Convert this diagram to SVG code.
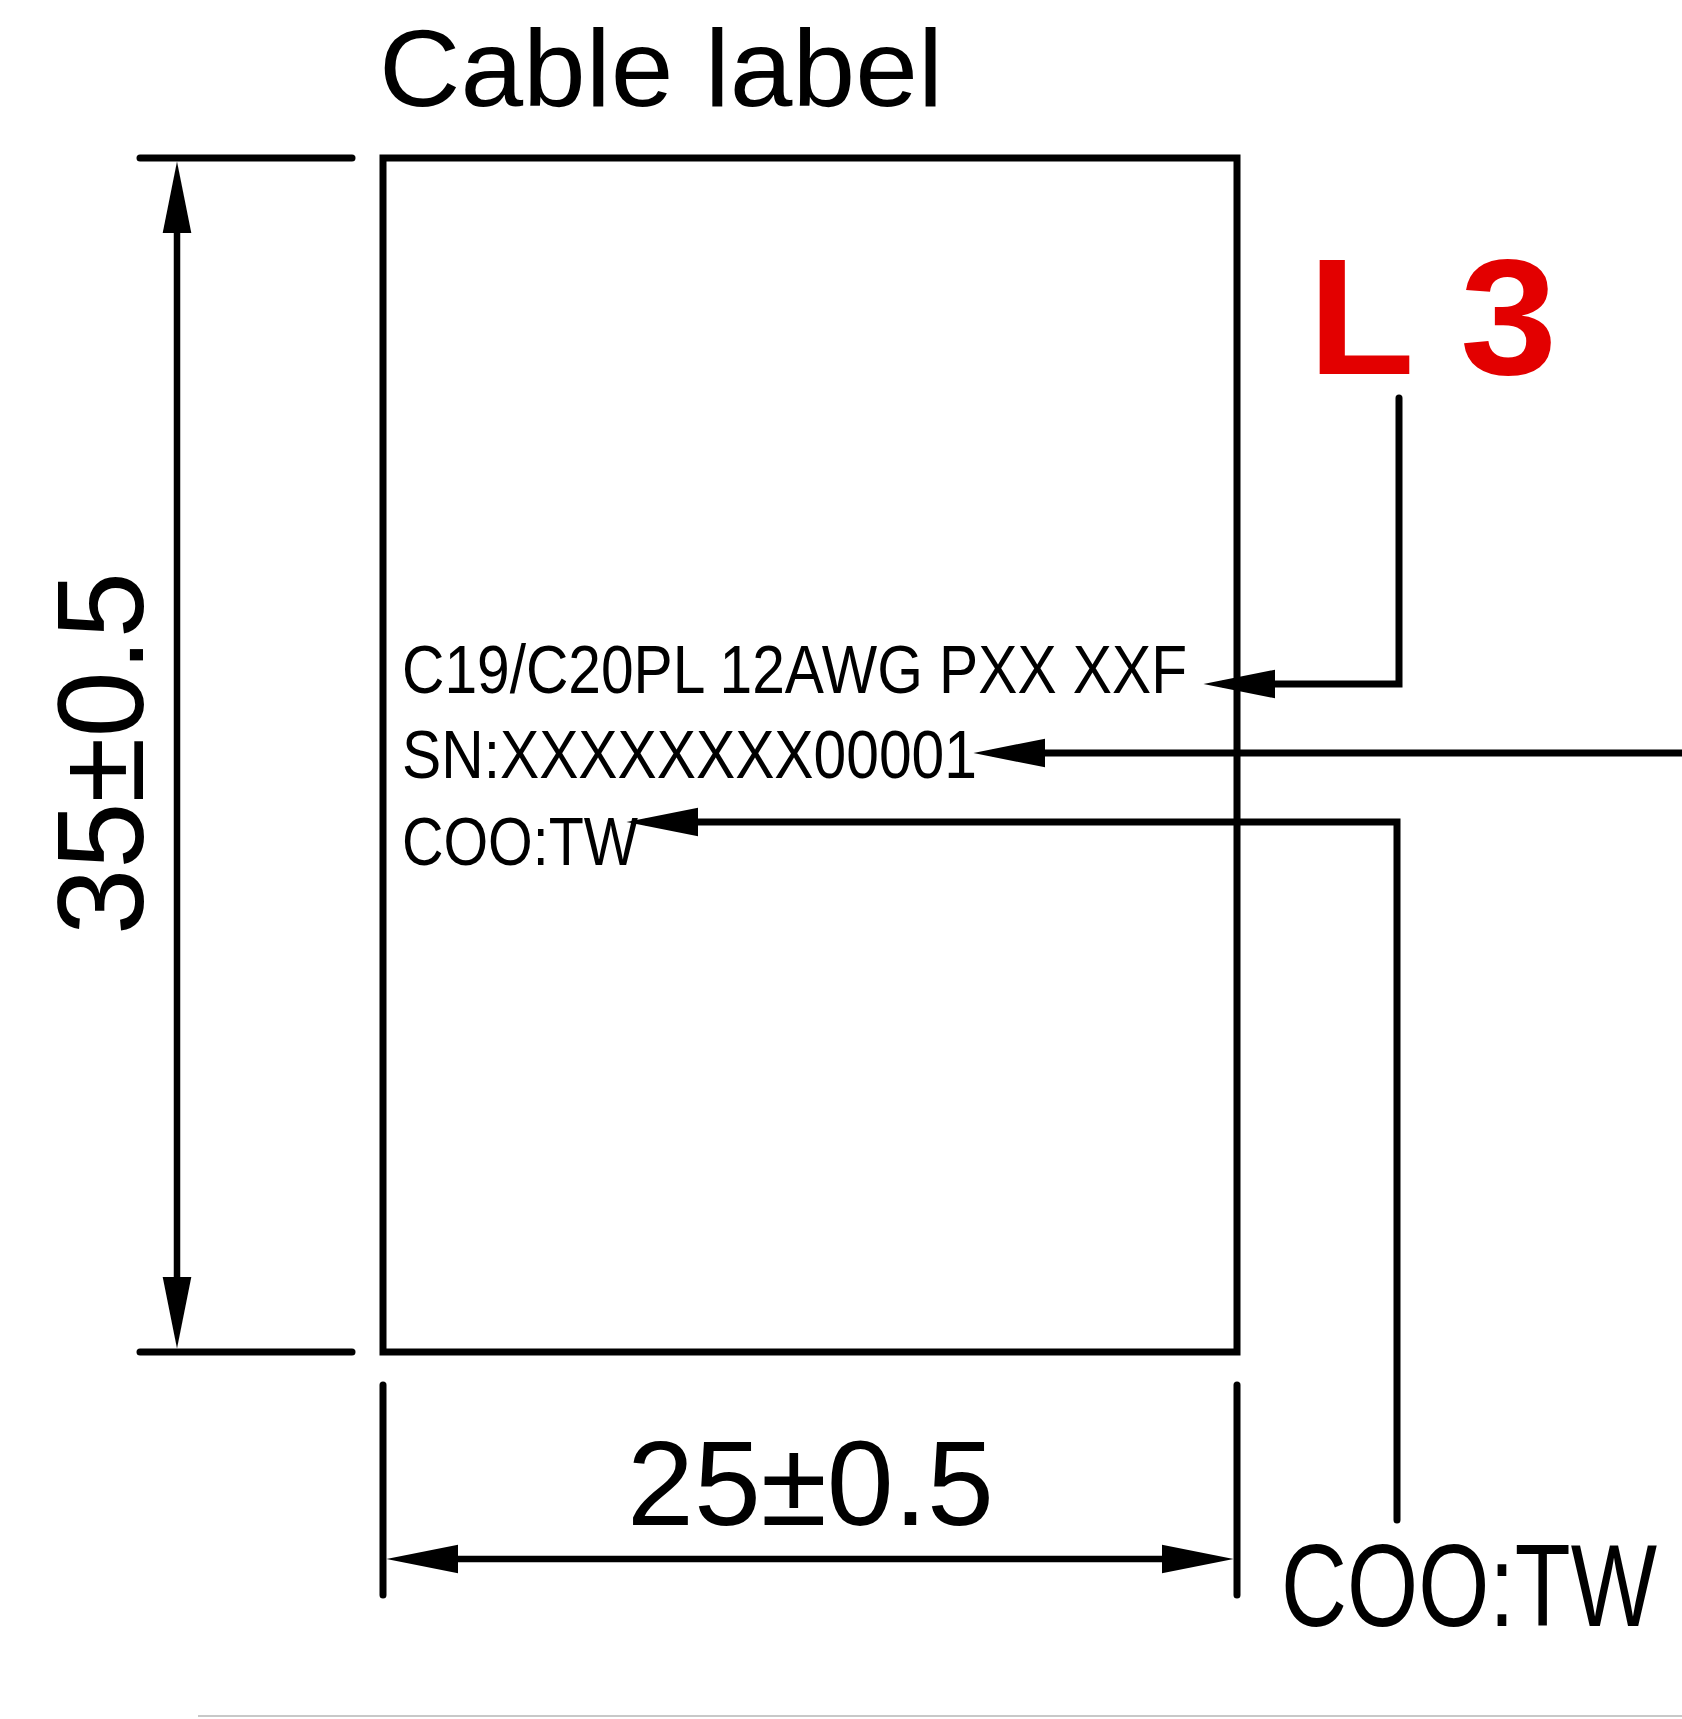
<svg xmlns="http://www.w3.org/2000/svg" width="1682" height="1719" viewBox="0 0 1682 1719">
<style>
.ln{fill:none;stroke:#000;stroke-width:7;stroke-linecap:round;stroke-linejoin:miter}
.dim{fill:none;stroke:#000;stroke-width:6.5;stroke-linecap:butt}
.t{font-family:"Liberation Sans",Arial,sans-serif;fill:#000}
.red{font-family:"Liberation Sans",Arial,sans-serif;font-weight:bold;fill:#e30000}
</style>
<defs>
<marker id="ah" markerUnits="userSpaceOnUse" markerWidth="72" markerHeight="30" viewBox="0 0 70 28" refX="50" refY="14" orient="auto-start-reverse">
<path d="M0,0 L70,14 L0,28 Z" fill="#000"/>
</marker>
</defs>
<rect width="1682" height="1719" fill="#fff"/>
<text class="t" x="379" y="106" font-size="110" textLength="564" lengthAdjust="spacingAndGlyphs">Cable label</text>
<g id="label">
<rect x="383" y="158" width="854" height="1194" class="ln" stroke-linecap="butt"/>
<text class="t" x="402" y="693" font-size="68" textLength="785" lengthAdjust="spacingAndGlyphs">C19/C20PL 12AWG PXX XXF</text>
<text class="t" x="402" y="778" font-size="68" textLength="575" lengthAdjust="spacingAndGlyphs">SN:XXXXXXXX00001</text>
<text class="t" x="402" y="865" font-size="68" textLength="236" lengthAdjust="spacingAndGlyphs">COO:TW</text>
</g>
<g id="dim-height">
<line x1="140" y1="158" x2="352" y2="158" class="ln"/>
<line x1="140" y1="1352" x2="352" y2="1352" class="ln"/>
<path d="M177,182 V1328" class="dim" marker-start="url(#ah)" marker-end="url(#ah)"/>
<text class="t" transform="translate(143,753.5) rotate(-90)" text-anchor="middle" font-size="123" textLength="363" lengthAdjust="spacingAndGlyphs">35±0.5</text>
</g>
<g id="dim-width">
<line x1="383" y1="1385" x2="383" y2="1595" class="ln"/>
<line x1="1237" y1="1385" x2="1237" y2="1595" class="ln"/>
<path d="M407,1559 H1213" class="dim" marker-start="url(#ah)" marker-end="url(#ah)"/>
<text class="t" x="810.5" y="1525" text-anchor="middle" font-size="121" textLength="367" lengthAdjust="spacingAndGlyphs">25±0.5</text>
</g>
<g id="callout-L3">
<text class="red" x="1308" y="374" font-size="166" textLength="249" lengthAdjust="spacingAndGlyphs">L 3</text>
</g>
<g id="callout-COO">
<text class="t" x="1281" y="1626" font-size="116" textLength="376" lengthAdjust="spacingAndGlyphs">COO:TW</text>
</g>
<g id="connectors">
<path d="M1399,398 V684 H1224" class="ln" marker-end="url(#ah)"/>
<path d="M1690,753 H994" class="ln" marker-end="url(#ah)"/>
<path d="M1397,1520 V822 H647" class="ln" marker-end="url(#ah)"/>
</g>
<line x1="198" y1="1716" x2="1682" y2="1716" stroke="#c8c8c8" stroke-width="2"/>
</svg>
